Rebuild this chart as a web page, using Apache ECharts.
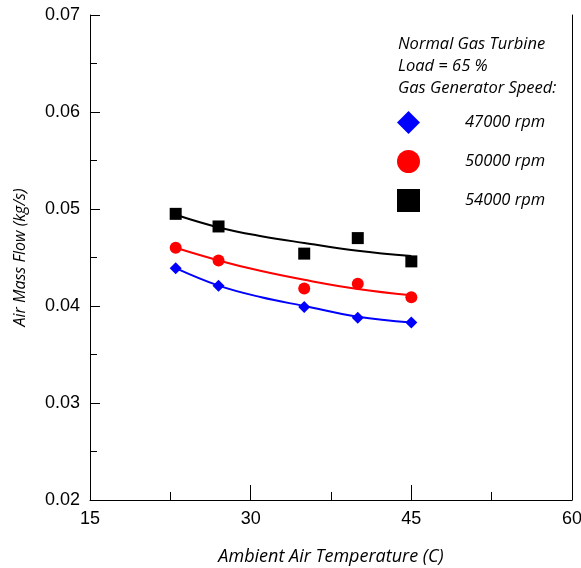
<!DOCTYPE html>
<html>
<head>
<meta charset="utf-8">
<script src="https://cdn.jsdelivr.net/npm/echarts@6/dist/echarts.min.js"></script>
<style>
  html, body { margin: 0; padding: 0; background: #fff; }
  #container { width: 581px; height: 568px; }
</style>
</head>
<body>
<div id="container"></div>
<script>
// measured points (ambient temp in C, air mass flow in kg/s)
var temps = [23, 27, 35, 40, 45];
var flow47000 = [0.0439, 0.0421, 0.0399, 0.0388, 0.0383];
var flow50000 = [0.0460, 0.0447, 0.0418, 0.0423, 0.0409];
var flow54000 = [0.0495, 0.0482, 0.0454, 0.0470, 0.0446];

// trend lines
var fitTemps = [23, 27, 31, 35, 40, 45];
var fit47000 = [0.0439, 0.0421, 0.0409, 0.0400, 0.0389, 0.0383];
var fit50000 = [0.0460, 0.0447, 0.0436, 0.0427, 0.04175, 0.0411];
var fit54000 = [0.0494, 0.0481, 0.0472, 0.0465, 0.0457, 0.04515];

var seriesNames = ['47000 rpm', '50000 rpm', '54000 rpm'];
var seriesColors = ['#0000ff', '#ff0000', '#000000'];

function pairs(xs, ys) {
    var out = [];
    for (var i = 0; i < xs.length; i++) out.push([xs[i], ys[i]]);
    return out;
}

var dom = document.getElementById('container');
var myChart = echarts.init(dom);

var tickFont = {color: '#000', fontFamily: 'Liberation Sans', fontSize: 18};
var italic = {color: '#000', fontFamily: 'Open Sans', fontStyle: 'italic'};

var fits = [fit47000, fit50000, fit54000];
var points = [flow47000, flow50000, flow54000];
var symbols = ['diamond', 'circle', 'rect'];

var series = [];
for (var k = 0; k < 3; k++) {
    series.push({
        type: 'line',
        smooth: 0.4,
        showSymbol: false,
        silent: true,
        data: pairs(fitTemps, fits[k]),
        lineStyle: {color: seriesColors[k], width: 2},
        z: 2
    });
}
for (var k = 0; k < 3; k++) {
    series.push({
        name: seriesNames[k],
        type: 'scatter',
        symbol: symbols[k],
        symbolSize: 12,
        data: pairs(temps, points[k]),
        itemStyle: {color: seriesColors[k], opacity: 1},
        z: 3
    });
}

var option = {
    animation: false,
    backgroundColor: '#fff',
    grid: {left: 90, right: 9, top: 15, bottom: 68, outerBoundsMode: 'none'},
    xAxis: {
        type: 'value',
        min: 15, max: 60, interval: 15,
        name: 'Ambient Air Temperature (C)',
        nameLocation: 'middle',
        nameGap: 48,
        nameTextStyle: Object.assign({fontSize: 18}, italic),
        axisLine: {onZero: false, lineStyle: {color: '#000', width: 1}},
        axisTick: {inside: true, length: 15, lineStyle: {color: '#000'}},
        minorTick: {show: true, splitNumber: 2, length: 8, lineStyle: {color: '#000'}},
        axisLabel: Object.assign({margin: 10}, tickFont),
        splitLine: {show: false}
    },
    yAxis: [{
        type: 'value',
        min: 0.02, max: 0.07, interval: 0.01,
        name: 'Air Mass Flow (kg/s)',
        nameLocation: 'middle',
        nameGap: 62,
        nameTextStyle: Object.assign({fontSize: 16}, italic),
        axisLine: {show: true, onZero: false, lineStyle: {color: '#000', width: 1}},
        axisTick: {inside: true, length: 10, lineStyle: {color: '#000'}},
        minorTick: {show: true, splitNumber: 2, length: 7, lineStyle: {color: '#000'}},
        axisLabel: Object.assign({margin: 10, formatter: function (v) { return v.toFixed(2); }}, tickFont),
        splitLine: {show: false}
    }, {
        type: 'value',
        position: 'right',
        min: 0.02, max: 0.07,
        axisLine: {show: true, onZero: false, lineStyle: {color: '#000', width: 1}},
        axisTick: {show: false},
        axisLabel: {show: false},
        splitLine: {show: false}
    }],
    legend: {
        orient: 'vertical',
        left: 392,
        top: 106,
        itemWidth: 23,
        itemHeight: 23,
        itemGap: 16,
        data: seriesNames,
        textStyle: Object.assign({fontSize: 16.5, padding: [0, 0, 0, 40]}, italic)
    },
    graphic: [{
        type: 'text',
        left: 398,
        top: 33,
        style: {
            text: 'Normal Gas Turbine\nLoad = 65 %\nGas Generator Speed:',
            fill: '#000',
            font: 'italic 16.5px "Open Sans"',
            lineHeight: 22
        }
    }],
    series: series
};
myChart.setOption(option, true);
</script>
</body>
</html>
